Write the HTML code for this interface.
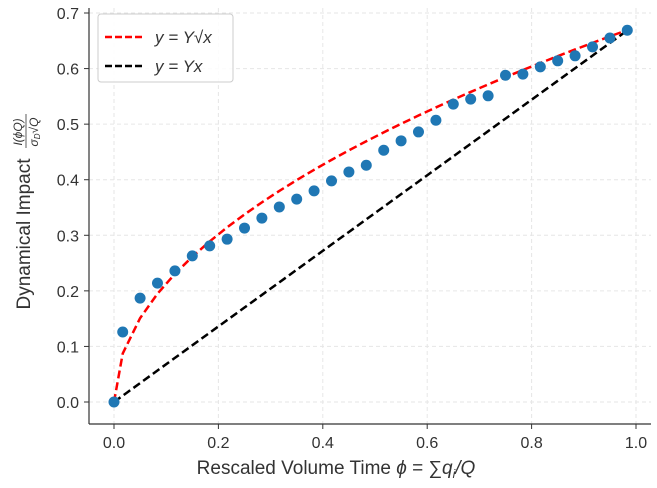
<!DOCTYPE html>
<html><head><meta charset="utf-8"><style>
body{margin:0;background:#fff}
text{font-family:"Liberation Sans",sans-serif;fill:#333}
</style></head><body>
<svg id="chart" width="657" height="483" xmlns="http://www.w3.org/2000/svg">
<g id="grid"></g>
<g id="axes"></g>
<g id="marks"></g>
<g>
<rect x="98" y="14" width="135" height="68" rx="3" fill="#fff" fill-opacity="0.85" stroke="#ccc"/>
<line x1="105" y1="37" x2="145" y2="37" stroke="#f00" stroke-width="2.5" stroke-dasharray="7,3"/>
<text x="155" y="43" font-size="17" font-style="italic">y = Y√x</text>
<line x1="105" y1="66" x2="145" y2="66" stroke="#000" stroke-width="2.5" stroke-dasharray="7,3"/>
<text x="155" y="72" font-size="17" font-style="italic">y = Yx</text>
</g>
<text x="336" y="474" font-size="19" text-anchor="middle">Rescaled Volume Time <tspan font-style="italic">ϕ</tspan> = ∑<tspan font-style="italic">q</tspan><tspan font-size="12" dy="4" font-style="italic">i</tspan><tspan dy="-4" font-style="italic">/Q</tspan></text>
<g transform="translate(30,212) rotate(-90)">
<text x="-22" y="0" font-size="19" text-anchor="middle">Dynamical Impact</text>
<text x="80" y="-8" font-size="12" font-style="italic" text-anchor="middle">I(ϕQ)</text>
<line x1="64" y1="-4" x2="98" y2="-4" stroke="#333" stroke-width="0.8"/>
<text x="80" y="8" font-size="12" font-style="italic" text-anchor="middle">σ<tspan font-size="8" dy="2">D</tspan><tspan dy="-2">√Q</tspan></text>
</g>
</svg>
<script>
const xVals=[0,0.0167,0.05,0.0833,0.1167,0.15,0.1833,0.2167,0.25,0.2833,0.3167,0.35,0.3833,0.4167,0.45,0.4833,0.5167,0.55,0.5833,0.6167,0.65,0.6833,0.7167,0.75,0.7833,0.8167,0.85,0.8833,0.9167,0.95,0.9833];
const yVals=[0,0.126,0.187,0.214,0.236,0.263,0.281,0.293,0.313,0.331,0.351,0.365,0.380,0.398,0.414,0.426,0.453,0.470,0.486,0.507,0.536,0.545,0.551,0.588,0.590,0.603,0.614,0.623,0.639,0.655,0.669];
const coefSqrt=0.675;
const coefLin=0.68;
const xTicks=[0,0.2,0.4,0.6,0.8,1.0];
const yTicks=[0,0.1,0.2,0.3,0.4,0.5,0.6,0.7];
const NS="http://www.w3.org/2000/svg";
const X0=114,XS=522,Y0=402,YS=555.7;
const sx=v=>X0+v*XS, sy=v=>Y0-v*YS;
function mk(t,a,p){const e=document.createElementNS(NS,t);for(const k in a)e.setAttribute(k,a[k]);p.appendChild(e);return e;}
const grid=document.getElementById('grid'),axes=document.getElementById('axes'),marks=document.getElementById('marks');
xTicks.forEach(v=>{
 const g=mk('line',{x1:sx(v),x2:sx(v),y1:8,y2:424,stroke:'#e6e6e6','stroke-dasharray':'4,3'},grid);
 
 
 const t=mk('line',{x1:sx(v),x2:sx(v),y1:424,y2:429,stroke:'#333'},axes);
 
 
 const l=mk('text',{x:sx(v),y:448,'font-size':16,'text-anchor':'middle'},axes);l.textContent=v.toFixed(1);
 
 
});
yTicks.forEach(v=>{
 const g=mk('line',{x1:89,x2:651,y1:sy(v),y2:sy(v),stroke:'#e6e6e6','stroke-dasharray':'4,3'},grid);
 
 
 const t=mk('line',{x1:84,x2:89,y1:sy(v),y2:sy(v),stroke:'#333'},axes);
 
 
 const l=mk('text',{x:79,y:sy(v)+6,'font-size':16,'text-anchor':'end'},axes);l.textContent=v.toFixed(1);
 
 
});
const sp1=mk('line',{x1:89,x2:89,y1:8,y2:424,stroke:'#333','stroke-width':1.2},axes);


const sp2=mk('line',{x1:89,x2:651,y1:424,y2:424,stroke:'#333','stroke-width':1.2},axes);


const lin=mk('polyline',{points:xVals.map(x=>sx(x)+','+sy(coefLin*x)).join(' '),fill:'none',stroke:'#000','stroke-width':2.5,'stroke-dasharray':'8,4'},marks);


const sq=mk('polyline',{points:xVals.map(x=>sx(x)+','+sy(coefSqrt*Math.sqrt(x))).join(' '),fill:'none',stroke:'#f00','stroke-width':2.5,'stroke-dasharray':'8,4'},marks);


xVals.forEach((x,i)=>{
 const c=mk('circle',{cx:sx(x),cy:sy(yVals[i]),r:5.5,fill:'#1f77b4'},marks);
 
 
});
</script>
</body></html>
